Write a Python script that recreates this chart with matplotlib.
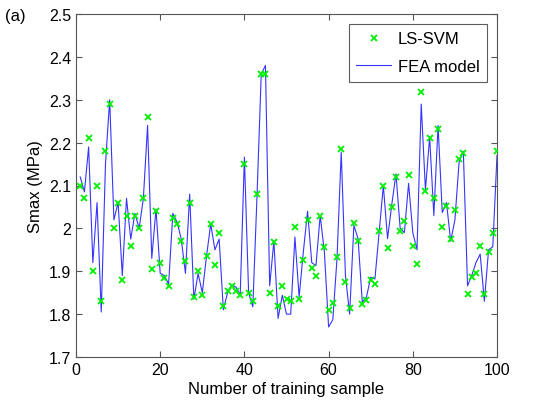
import matplotlib
matplotlib.use("Agg")
import matplotlib.pyplot as plt
import numpy as np

plt.rcParams['font.family'] = ['Liberation Sans', 'DejaVu Sans']

samples = list(range(1, 101))

fea_model = [
    2.12, 2.085, 2.19, 1.92, 2.06, 1.805, 2.15, 2.30, 2.02, 2.06,
    1.89, 2.07, 1.975, 2.035, 2.00, 2.07, 2.24, 1.93, 2.045, 1.895,
    1.89, 1.87, 2.035, 2.015, 1.975, 1.895, 2.08, 1.835, 1.895, 1.85,
    1.935, 2.01, 1.95, 1.975, 1.81, 1.85, 1.868, 1.863, 1.844, 2.166,
    1.85, 1.817, 2.077, 2.36, 2.38, 1.866, 1.97, 1.79, 1.844, 1.80,
    1.80, 1.98, 1.84, 1.945, 2.04, 1.92, 1.913, 2.03, 1.945, 1.77,
    1.787, 1.93, 2.178, 1.89, 1.80, 2.007, 1.976, 1.828, 1.84, 1.886,
    1.882, 1.99, 2.10, 1.976, 2.055, 2.127, 2.00, 1.99, 2.105, 1.99,
    1.95, 2.29, 2.09, 2.213, 2.03, 2.24, 2.037, 2.06, 1.97, 2.02,
    2.155, 2.18, 1.866, 1.89, 1.92, 1.94, 1.83, 1.95, 1.957, 2.17,
]

ls_svm = [
    2.10, 2.07, 2.21, 1.90, 2.10, 1.83, 2.18, 2.29, 2.00, 2.06,
    1.88, 2.03, 1.96, 2.03, 2.00, 2.07, 2.26, 1.905, 2.04, 1.92,
    1.885, 1.865, 2.025, 2.01, 1.97, 1.925, 2.06, 1.84, 1.90, 1.845,
    1.935, 2.01, 1.915, 1.99, 1.82, 1.853, 1.865, 1.853, 1.844, 2.15,
    1.85, 1.83, 2.08, 2.36, 2.36, 1.85, 1.968, 1.82, 1.865, 1.836,
    1.83, 2.003, 1.836, 1.927, 2.02, 1.907, 1.89, 2.03, 1.956, 1.81,
    1.827, 1.933, 2.185, 1.876, 1.814, 2.013, 1.97, 1.823, 1.832, 1.88,
    1.87, 1.993, 2.098, 1.955, 2.05, 2.12, 1.993, 2.018, 2.125, 1.96,
    1.917, 2.317, 2.087, 2.21, 2.07, 2.232, 2.004, 2.053, 1.976, 2.044,
    2.162, 2.176, 1.847, 1.887, 1.896, 1.96, 1.847, 1.944, 1.99, 2.18,
]

x_ticks = [0, 20, 40, 60, 80, 100]
y_ticks = [1.7, 1.8, 1.9, 2.0, 2.1, 2.2, 2.3, 2.4, 2.5]
y_tick_labels = ['1.7', '1.8', '1.9', '2', '2.1', '2.2', '2.3', '2.4', '2.5']

fig = plt.figure(figsize=(5.42, 4.10), dpi=100)
ax = fig.add_axes([76/542, 1 - 358/410, (497-76)/542, (358-15)/410])

ax.plot(samples, ls_svm, linestyle='none', marker='x', color='#00ee00',
        markersize=4.5, markeredgewidth=1.3, label='LS-SVM', zorder=3)
ax.plot(samples, fea_model, color='#3535ff', linewidth=0.8, label='FEA model', zorder=2)

ax.set_xlim(0, 100)
ax.set_ylim(1.7, 2.5)
ax.set_xticks(x_ticks)
ax.set_yticks(y_ticks)
ax.set_yticklabels(y_tick_labels)
ax.tick_params(direction='in', top=True, right=True, labelsize=11.5, length=4,
               color='#555555')
for s in ax.spines.values():
    s.set_color('#555555')
    s.set_linewidth(0.8)

ax.set_xlabel('Number of training sample', fontsize=12, labelpad=3)
ax.set_ylabel('Smax (MPa)', fontsize=12, labelpad=4)

leg = ax.legend(loc='upper right', fontsize=12, frameon=True, fancybox=False,
                edgecolor='#333333', borderaxespad=0.6, handlelength=2.1,
                borderpad=0.45, labelspacing=0.75, handletextpad=0.4)
leg.get_frame().set_linewidth(0.8)

fig.text(5/542, 1 - 17/410, '(a)', fontsize=12, va='center', ha='left')

fig.savefig('out.png', dpi=100)
